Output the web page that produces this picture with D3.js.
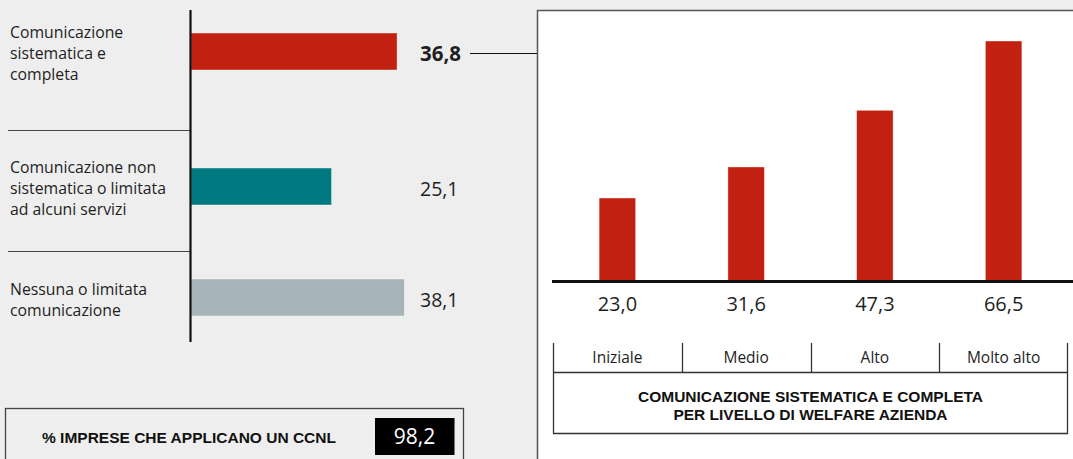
<!DOCTYPE html>
<html>
<head>
<meta charset="utf-8">
<script src="https://cdn.jsdelivr.net/npm/d3@7"></script>
<style>
  html, body { margin: 0; padding: 0; background: #eeeeee; }
  svg { display: block; font-family: "Open Sans", "Noto Sans", sans-serif; }
  .caps { font-family: "Liberation Sans", Arial, sans-serif; }
</style>
</head>
<body>
<svg id="chart" width="1073" height="459"></svg>
<script>
// Distribution of companies by type of welfare communication (%)
const categories = [
  "Comunicazione sistematica e completa",
  "Comunicazione non sistematica o limitata ad alcuni servizi",
  "Nessuna o limitata comunicazione"
];
const categoryLines = [
  ["Comunicazione", "sistematica e", "completa"],
  ["Comunicazione non", "sistematica o limitata", "ad alcuni servizi"],
  ["Nessuna o limitata", "comunicazione"]
];
const shares = [36.8, 25.1, 38.1];
const shareLabels = ["36,8", "25,1", "38,1"];
const shareColors = ["#c22010", "#007a80", "#a6b3b8"];

// Systematic communication by company welfare level (%)
const levels = ["Iniziale", "Medio", "Alto", "Molto alto"];
const levelValues = [23.0, 31.6, 47.3, 66.5];
const levelLabels = ["23,0", "31,6", "47,3", "66,5"];

const ccnlLabel = "% IMPRESE CHE APPLICANO UN CCNL";
const ccnlValue = "98,2";
const panelTitle = ["COMUNICAZIONE SISTEMATICA E COMPLETA", "PER LIVELLO DI WELFARE AZIENDA"];

const svg = d3.select("#chart");
const ink = "#1e1e1e";

// ---------- left: horizontal bars ----------
const axisX = 190.5;
const x = d3.scaleLinear().domain([0, 40]).range([axisX + 0.5, axisX + 0.5 + 224]);
const yCenter = d3.scaleOrdinal().domain(categories).range([51.5, 186.5, 297.5]);
const barH = 37;

// row separators
svg.selectAll("line.sep").data([130.5, 251.5]).join("line")
  .attr("class", "sep")
  .attr("x1", 8).attr("x2", axisX)
  .attr("y1", d => d).attr("y2", d => d)
  .attr("stroke", "#444").attr("stroke-width", 1.2);

svg.selectAll("rect.hbar").data(categories).join("rect")
  .attr("class", "hbar")
  .attr("x", x(0))
  .attr("y", d => yCenter(d) - barH / 2)
  .attr("width", (d, i) => x(shares[i]) - x(0))
  .attr("height", barH)
  .attr("fill", (d, i) => shareColors[i])
  .attr("stroke", "#ffffff").attr("stroke-opacity", 0.5).attr("stroke-width", 0.8);

// vertical axis
svg.append("line")
  .attr("x1", axisX).attr("x2", axisX)
  .attr("y1", 10).attr("y2", 342)
  .attr("stroke", "#111").attr("stroke-width", 2.2);

// category labels
const lineH = 21;
categories.forEach((c, i) => {
  const lines = categoryLines[i];
  const top = yCenter(c) + 2 - (lines.length - 1) * lineH / 2;
  const t = svg.append("text")
    .attr("x", 10)
    .attr("fill", ink)
    .attr("font-size", 15.8);
  lines.forEach((ln, j) => {
    t.append("tspan")
      .attr("x", 10)
      .attr("y", top + j * lineH)
      .attr("dy", "0.35em")
      .text(ln);
  });
});

// value labels
svg.selectAll("text.val").data(categories).join("text")
  .attr("class", "val")
  .attr("x", 420)
  .attr("y", d => yCenter(d) + 2.5)
  .attr("dy", "0.35em")
  .attr("font-size", (d, i) => i === 0 ? 20.5 : 19.5)
  .attr("font-weight", (d, i) => i === 0 ? 700 : 400)
  .attr("fill", ink)
  .text((d, i) => shareLabels[i]);

// ---------- right panel ----------
svg.append("rect")
  .attr("x", 537.5).attr("y", 10.5)
  .attr("width", 600).attr("height", 500)
  .attr("fill", "#ffffff")
  .attr("stroke", "#555").attr("stroke-width", 1.5);

// connector from the highlighted value to the panel
svg.append("line")
  .attr("x1", 470).attr("x2", 537)
  .attr("y1", 53.5).attr("y2", 53.5)
  .attr("stroke", "#111").attr("stroke-width", 1.2);

const xb = d3.scaleBand().domain(levels).range([553, 1068]).padding(0);
const yb = d3.scaleLinear().domain([0, 66.5]).range([281, 41]);
const colW = 36.5;

svg.selectAll("rect.vbar").data(levels).join("rect")
  .attr("class", "vbar")
  .attr("x", d => xb(d) + xb.bandwidth() / 2 - colW / 2)
  .attr("y", (d, i) => yb(levelValues[i]))
  .attr("width", colW)
  .attr("height", (d, i) => yb(0) - yb(levelValues[i]))
  .attr("fill", "#c22010")
  .attr("stroke", "#ffffff").attr("stroke-opacity", 0.5).attr("stroke-width", 0.8);

// baseline
svg.append("line")
  .attr("x1", 552).attr("x2", 1073)
  .attr("y1", yb(0) + 0.5).attr("y2", yb(0) + 0.5)
  .attr("stroke", "#111").attr("stroke-width", 3);

svg.selectAll("text.vval").data(levels).join("text")
  .attr("class", "vval")
  .attr("x", d => xb(d) + xb.bandwidth() / 2)
  .attr("y", 304)
  .attr("dy", "0.35em")
  .attr("text-anchor", "middle")
  .attr("font-size", 20)
  .attr("fill", ink)
  .text((d, i) => levelLabels[i]);

// category table
const tTop = 343, tMid = 372.5, tBot = 433.5;
const tbl = svg.append("g").attr("stroke", "#333").attr("stroke-width", 1.3);
tbl.append("line").attr("x1", 553).attr("x2", 1068).attr("y1", tMid).attr("y2", tMid);
tbl.append("line").attr("x1", 553).attr("x2", 1068).attr("y1", tBot).attr("y2", tBot);
tbl.append("line").attr("x1", 553.5).attr("x2", 553.5).attr("y1", tTop).attr("y2", tBot);
tbl.append("line").attr("x1", 1067.5).attr("x2", 1067.5).attr("y1", tTop).attr("y2", tBot);
tbl.selectAll("line.div").data(levels.slice(1)).join("line")
  .attr("class", "div")
  .attr("x1", d => Math.round(xb(d)) + 0.5).attr("x2", d => Math.round(xb(d)) + 0.5)
  .attr("y1", tTop).attr("y2", tMid);

svg.selectAll("text.lvl").data(levels).join("text")
  .attr("class", "lvl")
  .attr("x", d => xb(d) + xb.bandwidth() / 2)
  .attr("y", 357.5)
  .attr("dy", "0.35em")
  .attr("text-anchor", "middle")
  .attr("font-size", 15.5)
  .attr("fill", ink)
  .text(d => d);

svg.selectAll("text.ptitle").data(panelTitle).join("text")
  .attr("class", "ptitle caps")
  .attr("x", (553 + 1068) / 2)
  .attr("y", (d, i) => 397 + i * 18)
  .attr("dy", "0.35em")
  .attr("text-anchor", "middle")
  .attr("font-size", 15.5)
  .attr("font-weight", 700)
  .attr("fill", "#111")
  .text(d => d);

// ---------- bottom-left CCNL box ----------
svg.append("rect")
  .attr("x", 5.5).attr("y", 408.5)
  .attr("width", 458).attr("height", 80)
  .attr("fill", "none")
  .attr("stroke", "#444").attr("stroke-width", 1.3);

svg.append("text")
  .attr("class", "caps")
  .attr("x", 42).attr("y", 438)
  .attr("dy", "0.35em")
  .attr("font-size", 15.5)
  .attr("font-weight", 700)
  .attr("fill", "#111")
  .text(ccnlLabel);

svg.append("rect")
  .attr("x", 375).attr("y", 418)
  .attr("width", 79.5).attr("height", 37)
  .attr("fill", "#000");

svg.append("text")
  .attr("x", 414.5).attr("y", 436.5)
  .attr("dy", "0.35em")
  .attr("text-anchor", "middle")
  .attr("font-size", 21)
  .attr("fill", "#fff")
  .text(ccnlValue);
</script>
</body>
</html>
